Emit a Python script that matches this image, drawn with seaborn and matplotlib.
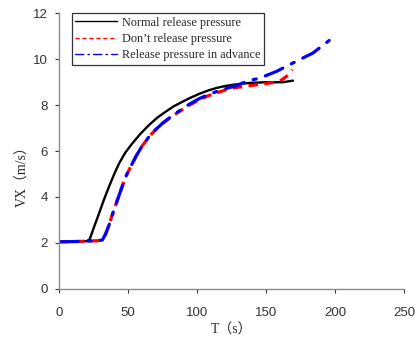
import numpy as np
import pandas as pd
import matplotlib
matplotlib.use("Agg")
import matplotlib.pyplot as plt
import seaborn as sns

# values
t_normal = [0, 10, 20, 22.2, 25.5, 29, 32.5, 36.2, 40, 43.5, 48, 53.1, 59, 65.2, 71, 77.3, 83, 89.4, 95, 101.4, 108, 114, 120, 126, 132, 138, 150, 162, 169.6]
v_normal = [2.05, 2.06, 2.08, 2.16, 2.72, 3.29, 3.88, 4.45, 5.0, 5.46, 5.93, 6.33, 6.75, 7.13, 7.44, 7.71, 7.94, 8.14, 8.31, 8.48, 8.63, 8.74, 8.82, 8.88, 8.92, 8.96, 8.99, 8.99, 9.06]

t_hold = [0, 10, 20, 28, 31.4, 33.8, 36.2, 39, 42.3, 45.3, 48.3, 52, 55.6, 60, 65.2, 70, 74.9, 81, 87, 94, 101.4, 108, 114, 120, 126, 138, 150, 160, 165, 169]
v_hold = [2.05, 2.06, 2.08, 2.1, 2.13, 2.4, 2.78, 3.3, 3.87, 4.38, 4.88, 5.33, 5.75, 6.2, 6.62, 6.93, 7.2, 7.47, 7.71, 7.98, 8.22, 8.4, 8.52, 8.64, 8.74, 8.84, 8.93, 9.03, 9.25, 9.54]

t_early = [0, 10, 20, 28, 31.4, 33.8, 36.2, 39, 42.3, 45.3, 48.3, 52, 55.6, 60, 65.2, 70, 74.9, 81, 87, 94, 101.4, 108, 114, 121, 128.6, 135.9, 145.5, 157.6, 169.6, 184, 199.8]
v_early = [2.05, 2.06, 2.08, 2.1, 2.13, 2.4, 2.78, 3.3, 3.87, 4.38, 4.88, 5.33, 5.75, 6.2, 6.62, 6.93, 7.2, 7.49, 7.74, 8.02, 8.27, 8.45, 8.58, 8.72, 8.84, 9.03, 9.17, 9.46, 9.83, 10.26, 10.99]

labels = ["Normal release pressure", "Don\u2019t release pressure", "Release pressure in advance"]

sns.set_style("white")
plt.rcParams["font.family"] = ["Liberation Sans", "DejaVu Sans"]

fig = plt.figure(figsize=(4.16, 3.38), dpi=100)
ax = fig.add_axes([0.142, 0.145, 0.829, 0.8165])

sns.lineplot(x=t_normal, y=v_normal, ax=ax, color="black", lw=1.7, label=labels[0])
sns.lineplot(x=t_hold, y=v_hold, ax=ax, color="red", lw=2.3, linestyle=(0, (3, 2)), label=labels[1])
sns.lineplot(x=t_early, y=v_early, ax=ax, color="blue", lw=2.3, linestyle=(0, (6, 3, 1, 3)),
             label=labels[2], dash_capstyle="round")

ax.set_xlim(0, 250)
ax.set_ylim(0, 12)
ax.set_xticks(range(0, 251, 50))
ax.set_yticks(range(0, 13, 2))
ax.tick_params(labelsize=9.5, colors="#333333", length=3, direction="out",
               left=True, bottom=True, width=0.8)
ax.tick_params(axis="x", pad=10)
ax.tick_params(axis="y", pad=5)
for s in ["top", "right"]:
    ax.spines[s].set_visible(False)
for s in ["left", "bottom"]:
    ax.spines[s].set_color("#8a8a8a")
    ax.spines[s].set_linewidth(1.0)

ax.set_xlabel("T\uff08s\uff09", fontsize=10, family=["Liberation Serif", "Noto Sans CJK SC"])
ax.set_ylabel("VX\uff08m/s\uff09", fontsize=10, family=["Liberation Serif", "Noto Sans CJK SC"])
ax.xaxis.set_label_coords(0.5, -0.125)
ax.yaxis.set_label_coords(-0.085, 0.42)

leg = ax.legend(loc="upper left", bbox_to_anchor=(0.037, 1.0), frameon=True, fancybox=False,
                prop={"family": "Liberation Serif", "size": 8.8}, handlelength=3.4,
                borderpad=0.3, labelspacing=0.35, handletextpad=0.4, borderaxespad=0)
leg.get_frame().set_edgecolor("black")
leg.get_frame().set_linewidth(0.9)
for h in leg.get_lines():
    h.set_linewidth(1.0)

fig.savefig("out.png", dpi=100)
